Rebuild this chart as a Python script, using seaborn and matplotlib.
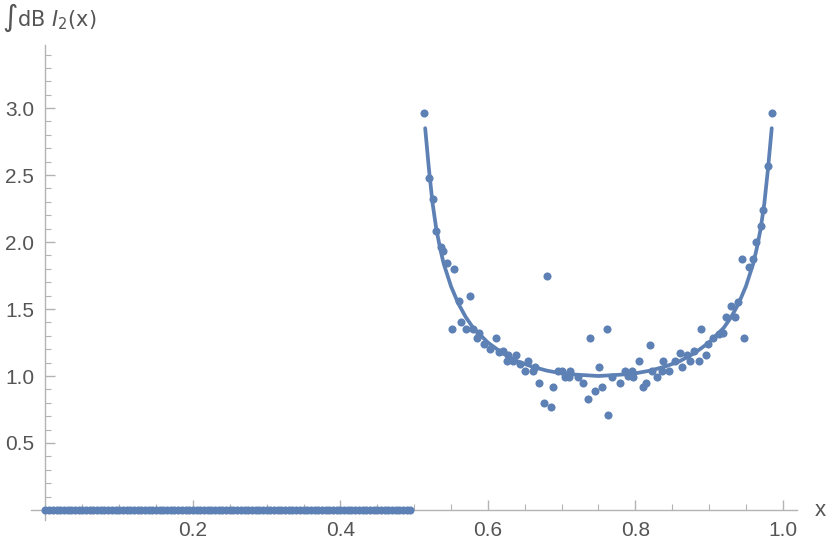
import numpy as np
import pandas as pd
import matplotlib
matplotlib.use("Agg")
import matplotlib.pyplot as plt
from matplotlib.ticker import MultipleLocator, FixedLocator
import seaborn as sns

# sample points that sit on zero (regular sampling grid, x < 0.5)
zero_x = np.arange(0.0, 0.4951, 0.005)
zero_y = np.zeros_like(zero_x)

# scattered samples (x > 0.5)
pts_x = [0.513, 0.520, 0.525, 0.529, 0.536, 0.539, 0.544, 0.554, 0.561, 0.576,
         0.563, 0.551, 0.570, 0.580, 0.588, 0.585, 0.595, 0.611, 0.603, 0.615,
         0.620, 0.627, 0.638, 0.626, 0.634, 0.643, 0.654, 0.650, 0.664, 0.661,
         0.669, 0.676, 0.685, 0.688, 0.680, 0.695, 0.700, 0.704, 0.710, 0.712,
         0.722, 0.729, 0.738, 0.761, 0.751, 0.755, 0.745, 0.736, 0.763, 0.769,
         0.779, 0.786, 0.790, 0.795, 0.797, 0.810, 0.814, 0.805, 0.820, 0.822,
         0.829, 0.837, 0.836, 0.845, 0.854, 0.860, 0.863, 0.870, 0.874, 0.879,
         0.886, 0.896, 0.889, 0.898, 0.905, 0.913, 0.919, 0.923, 0.935, 0.930,
         0.947, 0.939, 0.945, 0.954, 0.959, 0.963, 0.970, 0.973, 0.980, 0.985]
pts_y = [2.96, 2.48, 2.32, 2.08, 1.96, 1.93, 1.84, 1.80, 1.56, 1.60,
         1.40, 1.35, 1.35, 1.35, 1.32, 1.28, 1.24, 1.28, 1.20, 1.18,
         1.19, 1.16, 1.16, 1.11, 1.11, 1.09, 1.11, 1.04, 1.07, 1.04,
         0.95, 0.80, 0.77, 0.92, 1.75, 1.04, 1.04, 0.99, 0.99, 1.04,
         0.99, 0.95, 1.28, 1.35, 1.07, 0.92, 0.89, 0.83, 0.71, 0.99,
         0.95, 1.04, 1.00, 1.04, 0.99, 0.92, 0.95, 1.11, 1.23, 1.04,
         0.99, 1.11, 1.04, 1.04, 1.11, 1.17, 1.07, 1.16, 1.11, 1.19,
         1.11, 1.16, 1.35, 1.24, 1.28, 1.31, 1.32, 1.44, 1.44, 1.52,
         1.28, 1.55, 1.87, 1.81, 1.87, 2.00, 2.12, 2.24, 2.57, 2.96]

# U-shaped curve, values
curve_x = [0.515, 0.520, 0.525, 0.530, 0.535, 0.540, 0.550, 0.560, 0.570, 0.580,
           0.600, 0.620, 0.640, 0.660, 0.680, 0.700, 0.720, 0.750,
           0.780, 0.800, 0.820, 0.840, 0.860, 0.880, 0.900, 0.920,
           0.930, 0.940, 0.950, 0.960, 0.965, 0.970, 0.975, 0.980, 0.985]
curve_y = [2.85, 2.55, 2.29, 2.10, 1.96, 1.84, 1.67, 1.54, 1.44, 1.36,
           1.25, 1.17, 1.11, 1.07, 1.04, 1.02, 1.01, 1.00,
           1.01, 1.02, 1.04, 1.07, 1.11, 1.17, 1.25, 1.36,
           1.44, 1.54, 1.67, 1.84, 1.96, 2.10, 2.29, 2.55, 2.85]

BLUE = "#5E81B5"
AXIS = "#b3b3b3"
TEXT = "#555555"

sns.set_theme(style="white")
plt.rcParams["font.family"] = ["Liberation Sans", "DejaVu Sans"]

fig = plt.figure(figsize=(8.3, 5.49), dpi=100)
ax = fig.add_axes([0.037, 0.0528, 0.923, 0.865])

sns.lineplot(x=curve_x, y=curve_y, ax=ax, color=BLUE, linewidth=2.7, sort=False)
sns.scatterplot(x=zero_x, y=zero_y, ax=ax, color=BLUE, s=34, linewidth=0, zorder=3)
sns.scatterplot(x=pts_x, y=pts_y, ax=ax, color=BLUE, s=34, linewidth=0, zorder=3)

ax.set_xlim(-0.02, 1.019)
ax.set_ylim(-0.075, 3.47)

for side in ["top", "right"]:
    ax.spines[side].set_visible(False)
ax.spines["left"].set_position(("data", 0))
ax.spines["bottom"].set_position(("data", 0))
for side in ["left", "bottom"]:
    ax.spines[side].set_color(AXIS)
    ax.spines[side].set_linewidth(1.0)

ax.xaxis.set_major_locator(FixedLocator([0.2, 0.4, 0.6, 0.8, 1.0]))
ax.xaxis.set_minor_locator(MultipleLocator(0.05))
ax.yaxis.set_major_locator(FixedLocator([0.5, 1.0, 1.5, 2.0, 2.5, 3.0]))
ax.yaxis.set_minor_locator(MultipleLocator(0.1))
ax.tick_params(axis="both", which="major", direction="in", length=7, width=1,
               color=AXIS, labelcolor=TEXT, labelsize=15, pad=8)
ax.tick_params(axis="both", which="minor", direction="in", length=4, width=0.8,
               color=AXIS)
ax.tick_params(axis="y", which="both", left=True)
ax.tick_params(axis="x", which="both", bottom=True)
ax.set_xticklabels(["0.2", "0.4", "0.6", "0.8", "1.0"])
ax.set_yticklabels(["0.5", "1.0", "1.5", "2.0", "2.5", "3.0"])
ax.set_xlabel("")
ax.set_ylabel("")

fig.text(815 / 830, 1 - 510 / 549, "x", color=TEXT, fontsize=16,
         ha="left", va="center")
fig.text(2 / 830, 1 - 18 / 549, "\u222bdB $\\mathit{I}_{2}$(x)", color=TEXT,
         fontsize=15, ha="left", va="center", family=["DejaVu Sans"])

fig.savefig("out.png", dpi=100)
